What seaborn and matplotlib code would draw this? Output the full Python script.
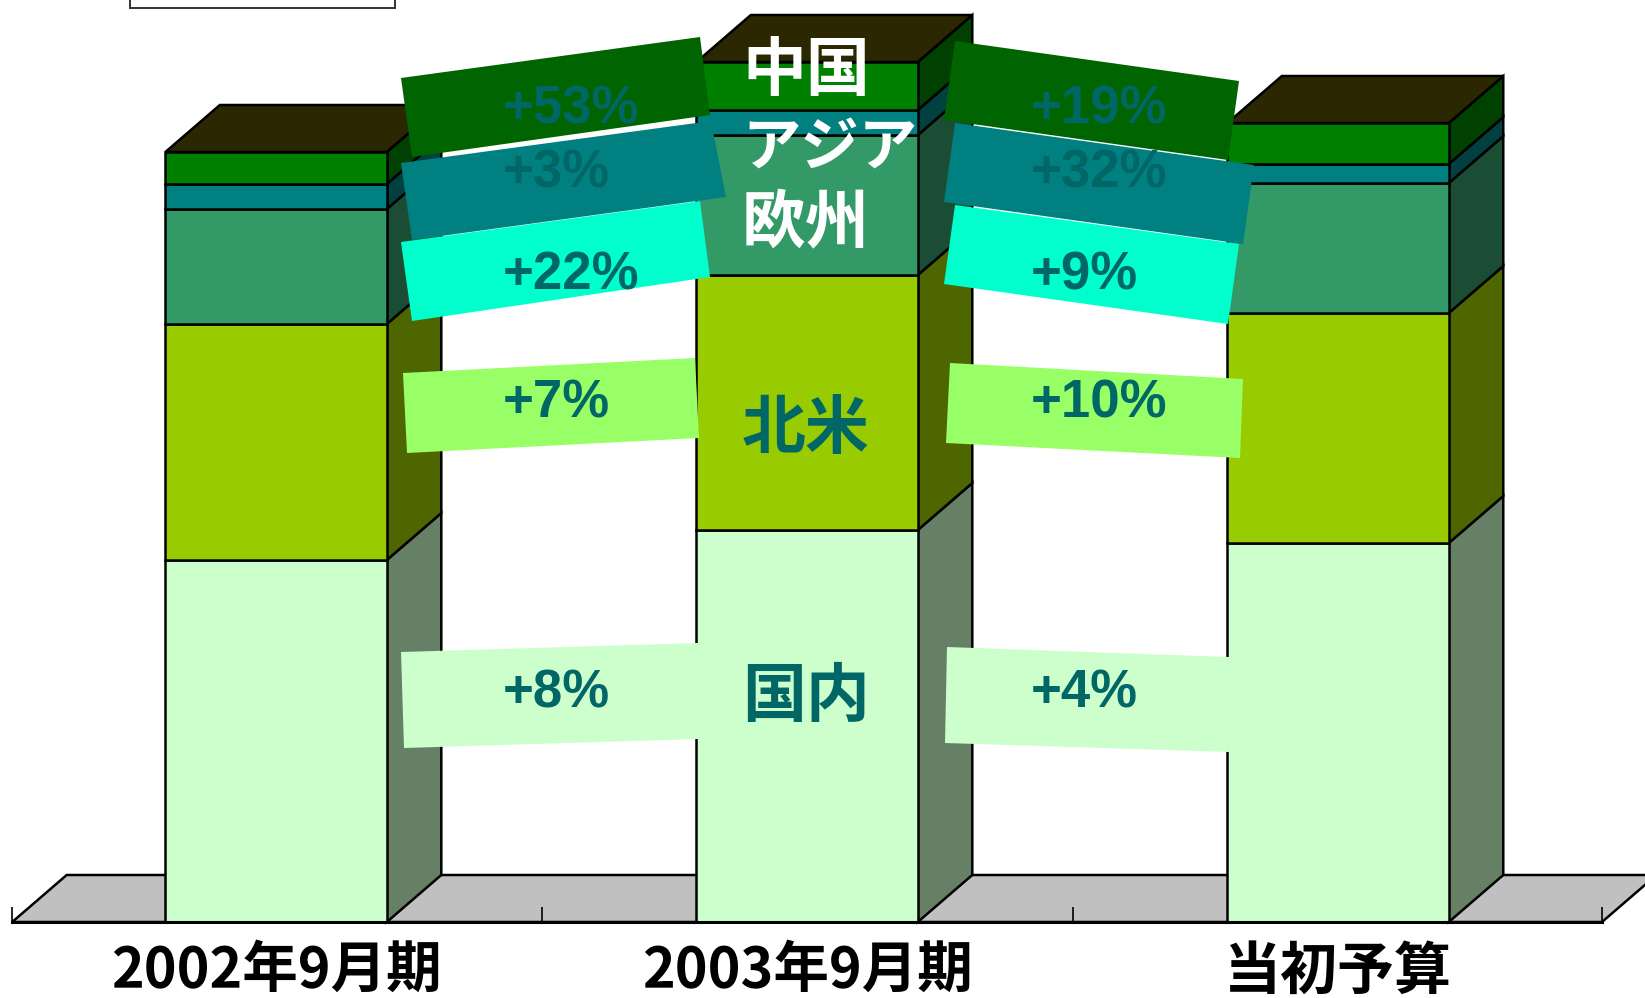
import numpy as np
import pandas as pd
import seaborn as sns
import matplotlib
matplotlib.use("Agg")
import matplotlib.pyplot as plt
from matplotlib.patches import Polygon, Rectangle
from matplotlib.transforms import Affine2D

# ---- data (arbitrary height units, no value axis) ----
periods = ["2002年9月期", "2003年9月期", "当初予算"]
domestic = [362, 392, 379]
north_america = [236, 255, 230]
europe = [115, 140, 130]
asia = [25, 25, 19]
china = [32, 48, 41]
series_names = ["国内", "北米", "欧州", "アジア", "中国"]
growth_2003 = ["+8%", "+7%", "+22%", "+3%", "+53%"]
growth_budget = ["+4%", "+10%", "+9%", "+32%", "+19%"]

# ---- styling ----
front_colors = ["#CCFFCC", "#99CC00", "#339966", "#008080", "#008000"]
side_colors = ["#668066", "#4D6600", "#1A4D33", "#004040", "#004000"]
top_color = "#2B2700"
floor_color = "#C0C0C0"
label_color = "#006666"
banner_colors = ["#CCFFCC", "#99FF66", "#00FFCC", "#008080", "#006400"]
CJK = ["Noto Sans CJK JP", "DejaVu Sans"]
LATIN = ["Liberation Sans", "DejaVu Sans"]

W, H = 1645, 998
sns.set_theme(style="white")
plt.rcParams["font.family"] = CJK

fig = plt.figure(figsize=(W / 100, H / 100), dpi=100, facecolor="white")
ax = fig.add_axes([0, 0, 1, 1])
px = Affine2D().scale(1 / W, -1 / H).translate(0, 1) + fig.transFigure

bar_w = 0.417
dx, dy = 0.1026, 47
lw = 1.8

# floor
ax.add_patch(Polygon([(-0.497, 0), (2.497, 0), (2.497 + dx, dy), (-0.497 + dx, dy)],
                     closed=True, fc=floor_color, ec="black", lw=lw, zorder=1))

values = [domestic, north_america, europe, asia, china]
bottom = np.zeros(3)
for name, vals, fc, sc in zip(series_names, values, front_colors, side_colors):
    vals = np.asarray(vals, float)
    df = pd.DataFrame({"period": periods, "value": vals})
    sns.barplot(data=df, x="period", y="value", order=periods, bottom=bottom,
                color=fc, saturation=1, width=bar_w, edgecolor="black",
                linewidth=lw, zorder=3, ax=ax)
    for i in range(3):
        xr = i + bar_w / 2
        b, t = bottom[i], bottom[i] + vals[i]
        ax.add_patch(Polygon([(xr, b), (xr + dx, b + dy), (xr + dx, t + dy), (xr, t)],
                             closed=True, fc=sc, ec="black", lw=lw, zorder=2))
    bottom = bottom + vals
for i in range(3):
    xl, xr = i - bar_w / 2, i + bar_w / 2
    t = bottom[i]
    ax.add_patch(Polygon([(xl, t), (xr, t), (xr + dx, t + dy), (xl + dx, t + dy)],
                         closed=True, fc=top_color, ec="black", lw=lw, zorder=2))

ax.set_xlim(-0.5200, 2.578)
ax.set_ylim(-76, 922)
ax.set_xlabel("")
ax.set_ylabel("")
ax.set_yticks([])
ax.set_facecolor("white")
ax.set_axisbelow(False)
for s in ["top", "left", "right"]:
    ax.spines[s].set_visible(False)
sp = ax.spines["bottom"]
sp.set_position(("data", 0))
sp.set_bounds(-0.497, 2.497)
sp.set_linewidth(2.2)
sp.set_color("black")
sp.set_zorder(5)
ax.set_xticks(range(3))
ax.set_xticklabels(periods, fontweight="bold", fontsize=40, color="black", family=CJK)
ax.get_xticklabels()[2].set_fontsize(41)
ax.set_xticks([-0.497, 0.5, 1.5, 2.497], minor=True)
ax.tick_params(axis="x", which="major", length=0, pad=15)
ax.tick_params(axis="x", which="minor", length=11, width=1.2, direction="in",
               color="black", top=False, bottom=True)

# partly hidden box at top left
ax.add_patch(Rectangle((130, -10), 265, 18.5, transform=px, fc="white",
                       ec="#333333", lw=1.4, zorder=6))

# growth banners (image pixel layout)
left_banners = [
    [(401, 652), (698, 643), (698, 739), (404, 748)],
    [(403, 373), (695, 358), (699, 438), (407, 453)],
    [(401, 242), (700, 201), (710, 277), (412, 321)],
    [(401, 163), (711, 121), (726, 197), (412, 240)],
    [(401, 78), (700, 37), (710, 115), (412, 157)],
]
right_banners = [
    [(947, 647), (1229, 657), (1229, 752), (945, 743)],
    [(950, 363), (1243, 379), (1240, 458), (946, 443)],
    [(955, 205), (1239, 244), (1228, 324), (944, 284)],
    [(955, 123), (1254, 165), (1243, 244), (944, 202)],
    [(955, 41), (1239, 81), (1228, 160), (944, 120)],
]
baselines = [708, 418, 290, 187, 124]
for polys, labels, tx in [(left_banners, growth_2003, 503), (right_banners, growth_budget, 1031)]:
    for poly, lab, base, col in zip(polys, labels, baselines, banner_colors):
        ax.add_patch(Polygon(poly, closed=True, transform=px, fc=col, ec="none", zorder=7))
        ax.text(tx, base, lab, transform=px, ha="left", va="baseline", fontsize=38,
                fontweight="bold", color=label_color, family=LATIN, zorder=8)

# series names over the middle bar
name_pos = [697, 429, 225, 149, 71]
name_cols = [label_color, label_color, "white", "white", "white"]
name_sizes = [46, 46, 46, 42, 46]
for name, y, c, fs in zip(series_names, name_pos, name_cols, name_sizes):
    ax.text(742, y, name, transform=px, ha="left", va="center", fontsize=fs,
            fontweight="bold", color=c, family=CJK, zorder=9)

fig.savefig("out.png", dpi=100, facecolor="white")
